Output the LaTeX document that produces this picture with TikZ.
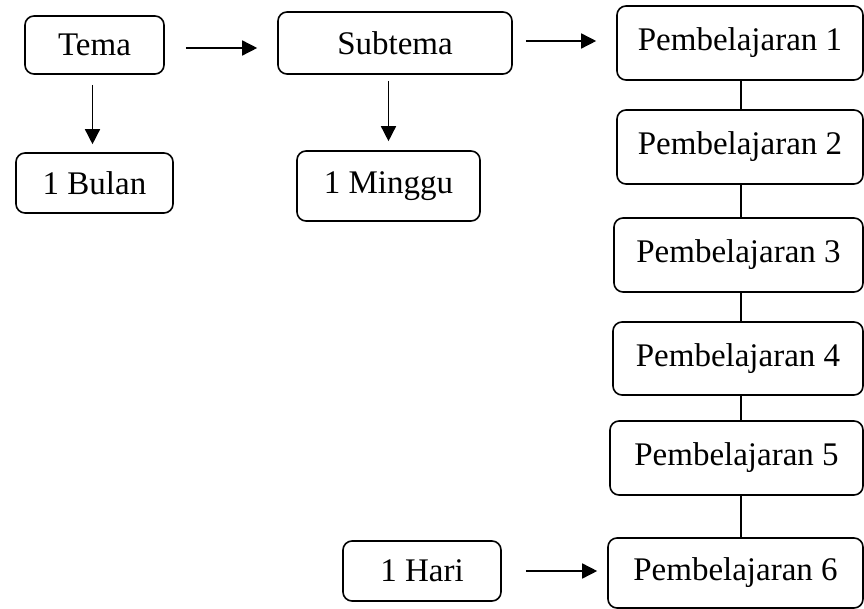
\documentclass[tikz,border=0pt]{standalone}
\usepackage{fontspec}
\setmainfont{Liberation Serif}
\usetikzlibrary{arrows.meta}
\begin{document}
\begin{tikzpicture}[x=1pt,y=-1pt,
  box/.style={draw,line width=1.6pt,rounded corners=9pt,inner sep=0pt,
    font=\fontsize{33}{39}\selectfont},
  arr/.style={line width=1.5pt,-{Triangle[length=15pt,width=15pt]}},
  link/.style={line width=1.3pt}]
\useasboundingbox (0,0) rectangle (864,609);
\node[box,minimum width=139pt,minimum height=58pt] (tema) at (94.5,45) {Tema};
\node[box,minimum width=157pt,minimum height=60pt] (bulan) at (94.5,183) {1 Bulan};
\node[box,minimum width=234pt,minimum height=62pt] (subtema) at (395,43) {Subtema};
\node[box,minimum width=183pt,minimum height=70pt] (minggu) at (388.5,186) {1 Minggu};
\node[box,minimum width=246pt,minimum height=74pt] (p1) at (740,43) {Pembelajaran 1};
\node[box,minimum width=246pt,minimum height=74pt] (p2) at (740,147) {Pembelajaran 2};
\node[box,minimum width=249pt,minimum height=74pt] (p3) at (738.5,255) {Pembelajaran 3};
\node[box,minimum width=250pt,minimum height=73pt] (p4) at (738,358.5) {Pembelajaran 4};
\node[box,minimum width=253pt,minimum height=74pt] (p5) at (736.5,458) {Pembelajaran 5};
\node[box,minimum width=255pt,minimum height=70pt] (p6) at (735.5,573) {Pembelajaran 6};
\node[box,minimum width=158pt,minimum height=60pt] (hari) at (422,571) {1 Hari};
\coordinate (lx) at (741,0);
\draw[arr,shorten <=10pt,shorten >=8pt] ([xshift=-2pt]tema.south) -- ([xshift=-2pt]bulan.north);
\draw[arr,shorten <=6pt,shorten >=9pt] (subtema.south -| minggu.north) -- (minggu.north);
\draw[arr,shorten <=21pt,shorten >=20pt] ([yshift=-3pt]tema.east) -- ([yshift=-3pt]tema.east -| subtema.west);
\draw[arr,shorten <=13pt,shorten >=20pt] ([yshift=2pt]subtema.east) -- ([yshift=2pt]subtema.east -| p1.west);
\draw[arr,shorten <=24pt,shorten >=10pt] (hari.east) -- (hari.east -| p6.west);
\draw[link] (p1.south -| lx) -- (p2.north -| lx);
\draw[link] (p2.south -| lx) -- (p3.north -| lx);
\draw[link] (p3.south -| lx) -- (p4.north -| lx);
\draw[link] (p4.south -| lx) -- (p5.north -| lx);
\draw[link] (p5.south -| lx) -- (p6.north -| lx);
\end{tikzpicture}
\end{document}
